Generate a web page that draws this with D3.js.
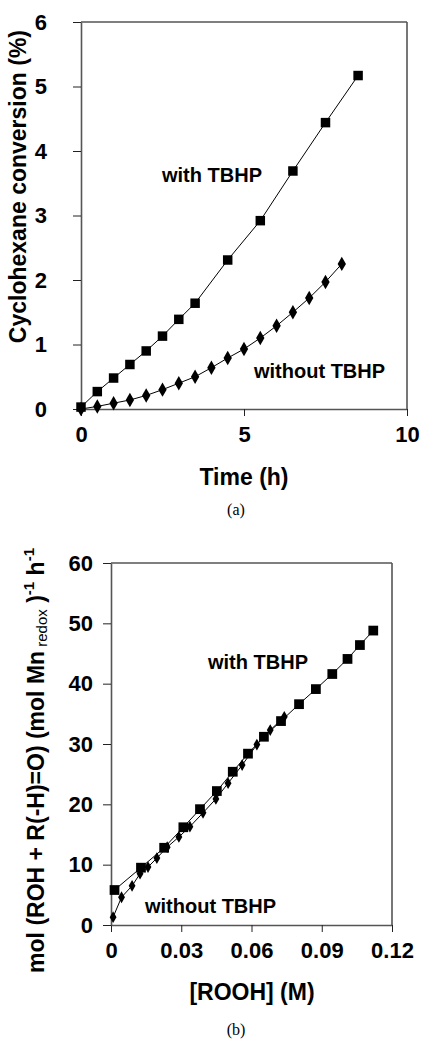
<!DOCTYPE html>
<html><head><meta charset="utf-8">
<script src="https://cdn.jsdelivr.net/npm/d3@7"></script>
<style>body{margin:0;background:#fff}svg{display:block}text{font-family:"Liberation Sans",Arial,sans-serif}</style>
</head><body>
<script>
// Panel (a)
const timeWith = [0,0.5,1,1.5,2,2.5,3,3.5,4.5,5.5,6.5,7.5,8.5];
const convWith = [0.03,0.27,0.48,0.69,0.9,1.13,1.39,1.64,2.31,2.92,3.69,4.44,5.17];
const timeWithout = [0,0.5,1,1.5,2,2.5,3,3.5,4,4.5,5,5.5,6,6.5,7,7.5,8];
const convWithout = [0,0.04,0.09,0.14,0.21,0.3,0.4,0.5,0.64,0.79,0.93,1.1,1.29,1.5,1.72,1.97,2.25];
const aXTicks = [0,5,10];
const aYTicks = [0,1,2,3,4,5,6];
// Panel (b)
const roohWith = [0.0015,0.0128,0.0227,0.0309,0.038,0.0452,0.052,0.0585,0.0653,0.0726,0.0803,0.0875,0.0945,0.101,0.1063,0.112];
const rateWith = [5.8,9.5,12.8,16.2,19.2,22.2,25.4,28.4,31.2,33.8,36.6,39.1,41.6,44.1,46.4,48.8];
const roohWithout = [0.0009,0.0045,0.009,0.0124,0.0158,0.0196,0.024,0.029,0.0337,0.0393,0.0448,0.05,0.056,0.0623,0.068,0.074];
const rateWithout = [1.3,4.6,6.5,8.5,9.6,11.1,12.9,14.6,16.3,18.6,20.9,23.5,26.5,29.9,32.3,34.5];
const bXTicks = [0,0.03,0.06,0.09,0.12];
const bXLabels = ["0","0.03","0.06","0.09","0.12"];
const bYTicks = [0,10,20,30,40,50,60];

const svg = d3.select("body").append("svg").attr("width",425).attr("height",1045);
const axisColor = "#555";

function panel(o){
  const g = svg.append("g");
  const x = d3.scaleLinear().domain(o.xd).range(o.xr);
  const y = d3.scaleLinear().domain(o.yd).range(o.yr);
  g.append("line").attr("x1",o.xr[0]).attr("x2",o.xr[1]).attr("y1",o.yr[1]).attr("y2",o.yr[1]).attr("stroke",axisColor).attr("stroke-width",1.6);
  g.append("line").attr("x1",o.xr[1]).attr("x2",o.xr[1]).attr("y1",o.yr[0]).attr("y2",o.yr[1]).attr("stroke",axisColor).attr("stroke-width",1.6);
  const xa = g.append("g").attr("transform",`translate(0,${o.yr[0]})`)
    .call(d3.axisBottom(x).tickValues(o.xt).tickSize(7).tickSizeOuter(0).tickPadding(10).tickFormat((d,i)=>o.xl ? o.xl[i] : String(d)));
  const ya = g.append("g").attr("transform",`translate(${o.xr[0]},0)`)
    .call(d3.axisLeft(y).tickValues(o.yt).tickSize(8).tickSizeOuter(0).tickPadding(o.ypad).tickFormat(d=>String(d)));
  [xa,ya].forEach(a=>{
    a.select(".domain").attr("stroke",axisColor).attr("stroke-width",1.6);
    a.selectAll(".tick line").attr("stroke","#222").attr("stroke-width",1);
    a.selectAll("text").attr("font-size",22).attr("font-weight","bold").attr("fill","#000")
      .style("font-family","Liberation Sans, Arial, sans-serif");
  });
  return {g,x,y};
}

function series(p, xs, ys, shape, size, lw){
  const data = xs.map((v,i)=>[v,ys[i]]);
  p.g.append("path").datum(data).attr("fill","none").attr("stroke","#000").attr("stroke-width",lw)
    .attr("d", d3.line().x(d=>p.x(d[0])).y(d=>p.y(d[1])));
  p.g.selectAll(null).data(data).enter().append("path")
    .attr("transform",d=>`translate(${p.x(d[0])},${p.y(d[1])})`)
    .attr("d", d3.symbol().type(shape).size(size)).attr("fill","#000");
}

// Panel A
const A = panel({xd:[0,10],xr:[81,407],yd:[0,6],yr:[409,22],xt:aXTicks,yt:aYTicks,ypad:26});
series(A, timeWith, convWith, d3.symbolSquare, 90, 1);
series(A, timeWithout, convWithout, d3.symbolDiamond, 60, 1);
A.g.append("text").attr("x",162).attr("y",182).attr("font-size",20).attr("font-weight","bold").text("with TBHP");
A.g.append("text").attr("x",254).attr("y",378).attr("font-size",20).attr("font-weight","bold").text("without TBHP");
A.g.append("text").attr("transform","translate(26,30) rotate(-90)").attr("text-anchor","end")
  .attr("font-size",23).attr("font-weight","bold").text("Cyclohexane conversion (%)");
A.g.append("text").attr("x",244).attr("y",485).attr("text-anchor","middle").attr("font-size",23).attr("font-weight","bold").text("Time (h)");
A.g.append("text").attr("x",236).attr("y",515).attr("text-anchor","middle").attr("font-size",16)
  .style("font-family","Liberation Serif, Times New Roman, serif").text("(a)");

// Panel B
const B = panel({xd:[0,0.12],xr:[111,392],yd:[0,60],yr:[925,563],xt:bXTicks,xl:bXLabels,yt:bYTicks,ypad:10});
series(B, roohWithout, rateWithout, d3.symbolDiamond, 40, 1);
series(B, roohWith, rateWith, d3.symbolSquare, 95, 1);
B.g.append("text").attr("x",208).attr("y",669).attr("font-size",20).attr("font-weight","bold").text("with TBHP");
B.g.append("text").attr("x",145).attr("y",913).attr("font-size",20).attr("font-weight","bold").text("without TBHP");
const yl = B.g.append("text").attr("transform","translate(44,548) rotate(-90)").attr("text-anchor","end")
  .attr("font-size",23).attr("font-weight","bold");
yl.append("tspan").text("mol (ROH + R(-H)=O) (mol Mn");
yl.append("tspan").attr("font-size",15).attr("font-weight","normal").attr("dy",3).text(" redox");
yl.append("tspan").attr("dy",-3).text(" )");
yl.append("tspan").attr("font-size",15).attr("dy",-10).text("-1");
yl.append("tspan").attr("dy",10).text(" h");
yl.append("tspan").attr("font-size",15).attr("dy",-10).text("-1");
B.g.append("text").attr("x",252).attr("y",1000).attr("text-anchor","middle").attr("font-size",23).attr("font-weight","bold").text("[ROOH] (M)");
B.g.append("text").attr("x",236).attr("y",1035).attr("text-anchor","middle").attr("font-size",16)
  .style("font-family","Liberation Serif, Times New Roman, serif").text("(b)");
</script>
</body></html>
